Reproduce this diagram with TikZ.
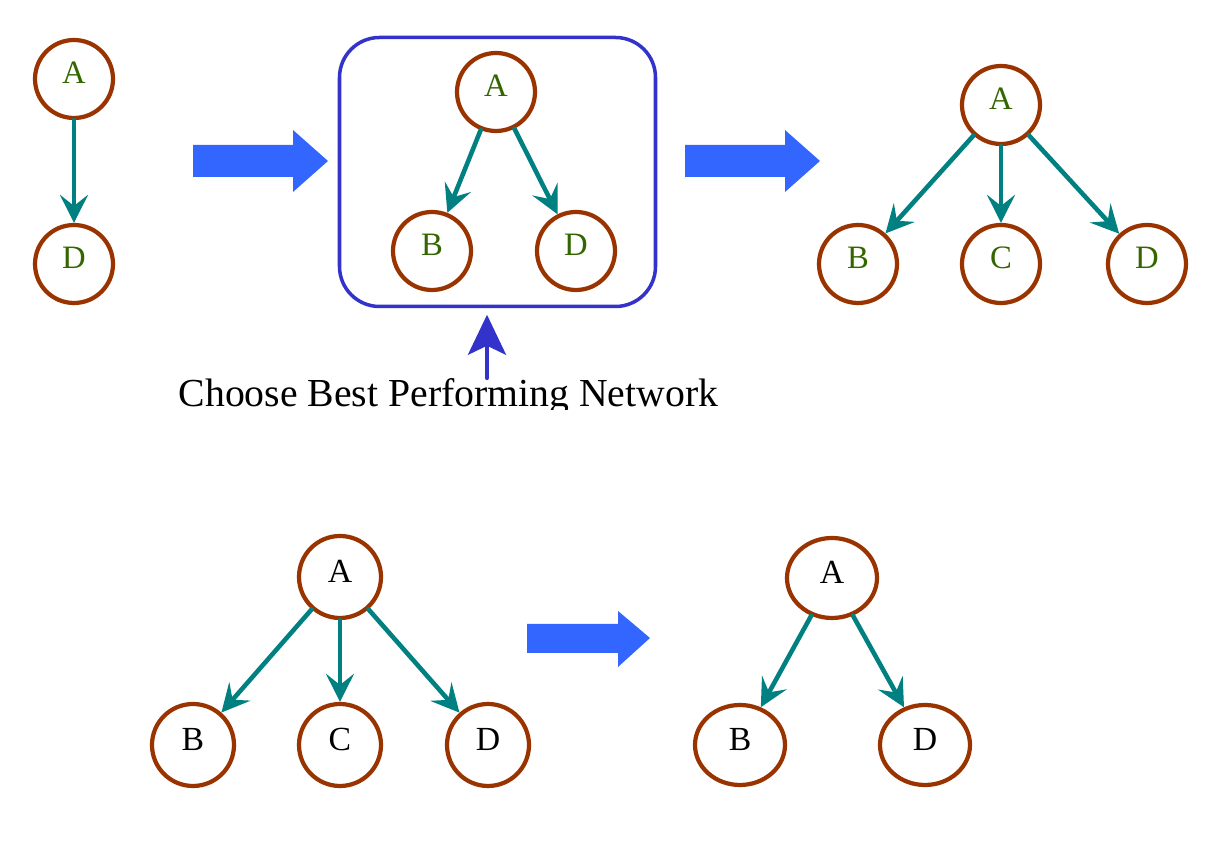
\documentclass[tikz,border=0pt]{standalone}
\usepackage{fontspec}
\setmainfont{Liberation Serif}
\usetikzlibrary{arrows.meta}
\usetikzlibrary{shapes.geometric}

\definecolor{nodebrown}{RGB}{153,51,0}
\definecolor{labelgreen}{RGB}{51,102,0}
\definecolor{edgeteal}{RGB}{0,128,128}
\definecolor{stepblue}{RGB}{51,102,255}
\definecolor{boxblue}{RGB}{51,51,204}

\tikzset{
  var/.style={circle,draw=nodebrown,line width=1.2pt,minimum size=0.78cm,inner sep=0pt,
    font=\fontsize{9.3}{10}\selectfont,text depth=1.2mm},
  greenvar/.style={var,text=labelgreen},
  blackvar/.style={var,text=black,minimum size=0.82cm,font=\fontsize{9.6}{10}\selectfont},
  ovalvar/.style={blackvar,ellipse,minimum width=0.9cm,minimum height=0.8cm},
  dep/.style={-{Stealth[length=2.8mm,width=2.8mm,inset=1.1mm]},draw=edgeteal,line width=1.3pt},
  pickarrow/.style={-{Stealth[length=4mm,width=3.8mm,inset=0.9mm]},draw=boxblue,line width=1.2pt}
}

\begin{document}
\begin{tikzpicture}[line cap=round,line join=round,x=1cm,y=1cm]
\useasboundingbox (0,0) rectangle (12.26,8.63);

\node[greenvar] (A1) at (0.74,7.84) {A};
\node[greenvar] (D1) at (0.74,5.99) {D};
\draw[dep] (A1) -- (D1);

\fill[stepblue] (1.93,7.18) -- (2.93,7.18) -- (2.93,7.33) -- (3.28,7.02) -- (2.93,6.71) -- (2.93,6.86) -- (1.93,6.86) -- cycle;

\node[draw=boxblue,line width=1pt,rounded corners=0.4cm,minimum width=3.16cm,minimum height=2.69cm] (box) at (4.975,6.91) {};
\node[greenvar] (A2) at (4.96,7.71) {A};
\node[greenvar] (B2) at (4.32,6.12) {B};
\node[greenvar] (D2) at (5.76,6.12) {D};
\draw[dep] (A2) -- (B2);
\draw[dep] (A2) -- (D2);

\fill[stepblue] (6.85,7.18) -- (7.85,7.18) -- (7.85,7.33) -- (8.20,7.02) -- (7.85,6.71) -- (7.85,6.86) -- (6.85,6.86) -- cycle;

\node[greenvar] (A3) at (10.01,7.58) {A};
\node[greenvar] (B3) at (8.58,5.99) {B};
\node[greenvar] (C3) at (10.01,5.99) {C};
\node[greenvar] (D3) at (11.47,5.99) {D};
\draw[dep] (A3) -- (B3);
\draw[dep] (A3) -- (C3);
\draw[dep] (A3) -- (D3);

\begin{scope}
\clip (1.5,4.53) rectangle (7.5,5.0);
\node[anchor=base west,inner sep=0pt,font=\fontsize{11.3}{13}\selectfont] (choose) at (1.78,4.56) {Choose Best Performing Network};
\end{scope}
\coordinate (pickfoot) at (4.87,4.85);
\draw[pickarrow] (pickfoot) -- ([yshift=-0.065cm]pickfoot |- box.south);

\node[blackvar] (A4) at (3.40,2.86) {A};
\node[blackvar] (B4) at (1.93,1.18) {B};
\node[blackvar] (C4) at (3.40,1.18) {C};
\node[blackvar] (D4) at (4.88,1.18) {D};
\draw[dep] (A4) -- (B4);
\draw[dep] (A4) -- (C4);
\draw[dep] (A4) -- (D4);

\fill[stepblue] (5.27,2.39) -- (6.18,2.39) -- (6.18,2.52) -- (6.50,2.25) -- (6.18,1.96) -- (6.18,2.10) -- (5.27,2.10) -- cycle;

\node[ovalvar] (A5) at (8.32,2.85) {A};
\node[ovalvar] (B5) at (7.40,1.18) {B};
\node[ovalvar] (D5) at (9.25,1.18) {D};
\draw[dep] (A5) -- (B5);
\draw[dep] (A5) -- (D5);

\end{tikzpicture}
\end{document}
